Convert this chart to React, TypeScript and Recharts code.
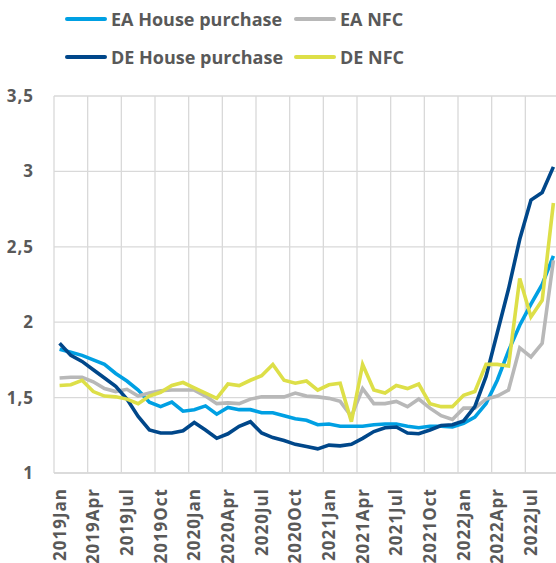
import React from 'react';
import { LineChart, Line, XAxis, YAxis, CartesianGrid } from 'recharts';

const months = [
  '2019Jan', '2019Feb', '2019Mar', '2019Apr', '2019May', '2019Jun', '2019Jul', '2019Aug', '2019Sep', '2019Oct', '2019Nov', '2019Dec',
  '2020Jan', '2020Feb', '2020Mar', '2020Apr', '2020May', '2020Jun', '2020Jul', '2020Aug', '2020Sep', '2020Oct', '2020Nov', '2020Dec',
  '2021Jan', '2021Feb', '2021Mar', '2021Apr', '2021May', '2021Jun', '2021Jul', '2021Aug', '2021Sep', '2021Oct', '2021Nov', '2021Dec',
  '2022Jan', '2022Feb', '2022Mar', '2022Apr', '2022May', '2022Jun', '2022Jul', '2022Aug', '2022Sep',
];

const eaHouse = [
  1.82, 1.80, 1.78, 1.75, 1.72, 1.66, 1.61, 1.55, 1.47, 1.44, 1.47, 1.41,
  1.42, 1.445, 1.39, 1.435, 1.42, 1.42, 1.40, 1.40, 1.38, 1.36, 1.35, 1.32,
  1.325, 1.31, 1.31, 1.31, 1.32, 1.325, 1.325, 1.31, 1.30, 1.31, 1.31, 1.305,
  1.33, 1.37, 1.46, 1.615, 1.81, 1.98, 2.12, 2.25, 2.44,
];

const eaNfc = [
  1.63, 1.635, 1.635, 1.605, 1.56, 1.54, 1.555, 1.51, 1.53, 1.545, 1.55, 1.55,
  1.55, 1.51, 1.46, 1.465, 1.46, 1.49, 1.505, 1.505, 1.505, 1.53, 1.51, 1.505,
  1.495, 1.475, 1.375, 1.56, 1.46, 1.46, 1.475, 1.44, 1.49, 1.43, 1.38, 1.355,
  1.43, 1.43, 1.49, 1.51, 1.55, 1.83, 1.77, 1.86, 2.41,
];

const deHouse = [
  1.86, 1.78, 1.74, 1.685, 1.63, 1.575, 1.49, 1.375, 1.285, 1.265, 1.265, 1.28,
  1.335, 1.285, 1.23, 1.26, 1.31, 1.34, 1.265, 1.235, 1.215, 1.19, 1.175, 1.16,
  1.185, 1.18, 1.19, 1.23, 1.275, 1.30, 1.305, 1.265, 1.26, 1.285, 1.315, 1.32,
  1.345, 1.44, 1.64, 1.93, 2.22, 2.55, 2.81, 2.86, 3.03,
];

const deNfc = [
  1.58, 1.585, 1.615, 1.54, 1.51, 1.505, 1.49, 1.46, 1.51, 1.535, 1.58, 1.60,
  1.565, 1.53, 1.495, 1.59, 1.58, 1.615, 1.645, 1.72, 1.615, 1.595, 1.61, 1.55,
  1.585, 1.595, 1.34, 1.72, 1.55, 1.53, 1.58, 1.56, 1.59, 1.46, 1.44, 1.44,
  1.515, 1.54, 1.72, 1.72, 1.71, 2.29, 2.035, 2.145, 2.79,
];

const yTicks = [1, 1.5, 2, 2.5, 3, 3.5];

const series = [
  { key: 'eaHouse', name: 'EA House purchase', color: '#00A0E3' },
  { key: 'eaNfc', name: 'EA NFC', color: '#B8B8B8' },
  { key: 'deHouse', name: 'DE House purchase', color: '#00478A' },
  { key: 'deNfc', name: 'DE NFC', color: '#DDDF48' },
];

const data = months.map((month, i) => ({
  month,
  eaHouse: eaHouse[i],
  eaNfc: eaNfc[i],
  deHouse: deHouse[i],
  deNfc: deNfc[i],
}));

const FONT = "'Open Sans', sans-serif";
const TEXT = '#595959';
const GRID = '#d9d9d9';

const legendPos = [
  { left: 65, top: 8 },
  { left: 294, top: 8 },
  { left: 65, top: 46 },
  { left: 294, top: 46 },
];

const MonthTick = (props: any) => {
  const { x, y, payload } = props;
  return (
    <text
      x={x}
      y={y}
      transform={`rotate(-90 ${x} ${y})`}
      textAnchor="end"
      dy="0.36em"
      fill={TEXT}
      fontSize={17}
      fontWeight={700}
      letterSpacing={1}
      fontFamily={FONT}
    >
      {payload.value}
    </text>
  );
};

const App: React.FC = () => {
  return (
    <div style={{ position: 'absolute', left: 0, top: 0, width: 556, height: 563, overflow: 'hidden', background: '#fff' }}>
      {series.map((s, i) => (
        <div
          key={s.key}
          style={{
            position: 'absolute',
            left: legendPos[i].left,
            top: legendPos[i].top,
            display: 'flex',
            alignItems: 'center',
            height: 22,
            fontFamily: FONT,
            fontWeight: 700,
            fontSize: 18,
            color: TEXT,
            whiteSpace: 'nowrap',
          }}
        >
          <div style={{ width: 42, height: 4, borderRadius: 2, background: s.color, marginRight: 4 }} />
          <span>{s.name}</span>
        </div>
      ))}
      <LineChart
        width={560}
        height={563}
        data={data}
        margin={{ top: 96, right: 1, left: 0, bottom: 0 }}
      >
        <CartesianGrid
          stroke={GRID}
          strokeWidth={1.3}
          verticalCoordinatesGenerator={({ offset }: any) =>
            Array.from({ length: Math.floor(months.length / 3) + 1 }, (_, k) =>
              offset.left + (k * 3 * offset.width) / months.length
            )
          }
        />
        <XAxis
          dataKey="month"
          interval={2}
          height={90}
          padding={{ left: 5.6, right: 5.6 }}
          tickLine={false}
          tickSize={0}
          tickMargin={15}
          axisLine={{ stroke: GRID, strokeWidth: 1.3 }}
          tick={<MonthTick />}
        />
        <YAxis
          domain={[1, 3.5]}
          ticks={yTicks}
          width={54}
          tickLine={false}
          tickSize={0}
          tickMargin={20}
          axisLine={false}
          tickFormatter={(v: number) => String(v).replace('.', ',')}
          tick={{ fill: TEXT, fontSize: 17, fontWeight: 700, fontFamily: FONT, letterSpacing: 1 }}
        />
        {series.map((s) => (
          <Line
            key={s.key}
            type="linear"
            dataKey={s.key}
            name={s.name}
            stroke={s.color}
            strokeWidth={3.6}
            dot={false}
            isAnimationActive={false}
          />
        ))}
      </LineChart>
    </div>
  );
};

export default App;
